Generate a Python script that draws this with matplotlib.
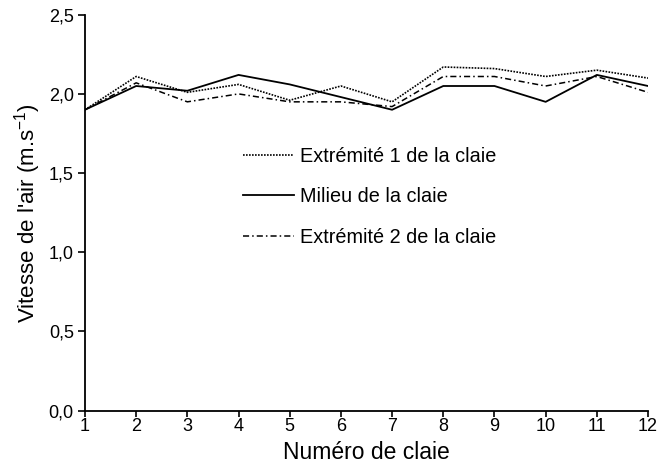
import matplotlib
matplotlib.use("Agg")
import matplotlib.pyplot as plt

plt.rcParams['font.family'] = ['Liberation Sans', 'DejaVu Sans']

claies = [1, 2, 3, 4, 5, 6, 7, 8, 9, 10, 11, 12]
extremite1 = [1.90, 2.11, 2.01, 2.06, 1.96, 2.05, 1.95, 2.17, 2.16, 2.11, 2.15, 2.10]
milieu = [1.90, 2.05, 2.02, 2.12, 2.06, 1.98, 1.90, 2.05, 2.05, 1.95, 2.12, 2.05]
extremite2 = [1.90, 2.07, 1.95, 2.00, 1.95, 1.95, 1.92, 2.11, 2.11, 2.05, 2.11, 2.01]
y_ticks = [0.0, 0.5, 1.0, 1.5, 2.0, 2.5]
y_ticklabels = ["0,0", "0,5", "1,0", "1,5", "2,0", "2,5"]
x_ticklabels = [str(c) for c in claies]
series_labels = ["Extrémité 1 de la claie", "Milieu de la claie", "Extrémité 2 de la claie"]

fig = plt.figure(figsize=(6.66, 4.66), dpi=100)
ax = fig.add_axes([0.1276, 0.1187, 0.8454, 0.8497])

ax.plot(claies, extremite1, color='black', lw=1.2, linestyle=(0, (1, 0.8)), label=series_labels[0])
ax.plot(claies, milieu, color='black', lw=1.3, linestyle='-', label=series_labels[1])
ax.plot(claies, extremite2, color='black', lw=1.1, linestyle=(0, (4, 2, 1, 2)), label=series_labels[2])

ax.set_xlim(1, 12)
ax.set_ylim(0, 2.5)
ax.set_xticks(claies)
ax.set_xticklabels(x_ticklabels)
ax.set_yticks(y_ticks)
ax.set_yticklabels(y_ticklabels)
ax.tick_params(axis='both', labelsize=13, direction='out', width=1.2, color='black')
ax.tick_params(axis='y', length=5, pad=3)
ax.tick_params(axis='x', length=4, pad=1.5)
for s in ['top', 'right']:
    ax.spines[s].set_visible(False)
for s in ['left', 'bottom']:
    ax.spines[s].set_linewidth(1.3)

ax.set_xlabel("Numéro de claie", fontsize=16.5, labelpad=4)
ax.set_ylabel("Vitesse de l'air (m.s$^{\\mathregular{-1}}$)", fontsize=16, labelpad=4)

ax.legend(loc='upper left', bbox_to_anchor=(0.281, 0.666), frameon=False,
          fontsize=14.3, handlelength=2.55, handletextpad=0.3, labelspacing=1.08,
          borderaxespad=0, borderpad=0)

fig.savefig("out.png", dpi=100)
